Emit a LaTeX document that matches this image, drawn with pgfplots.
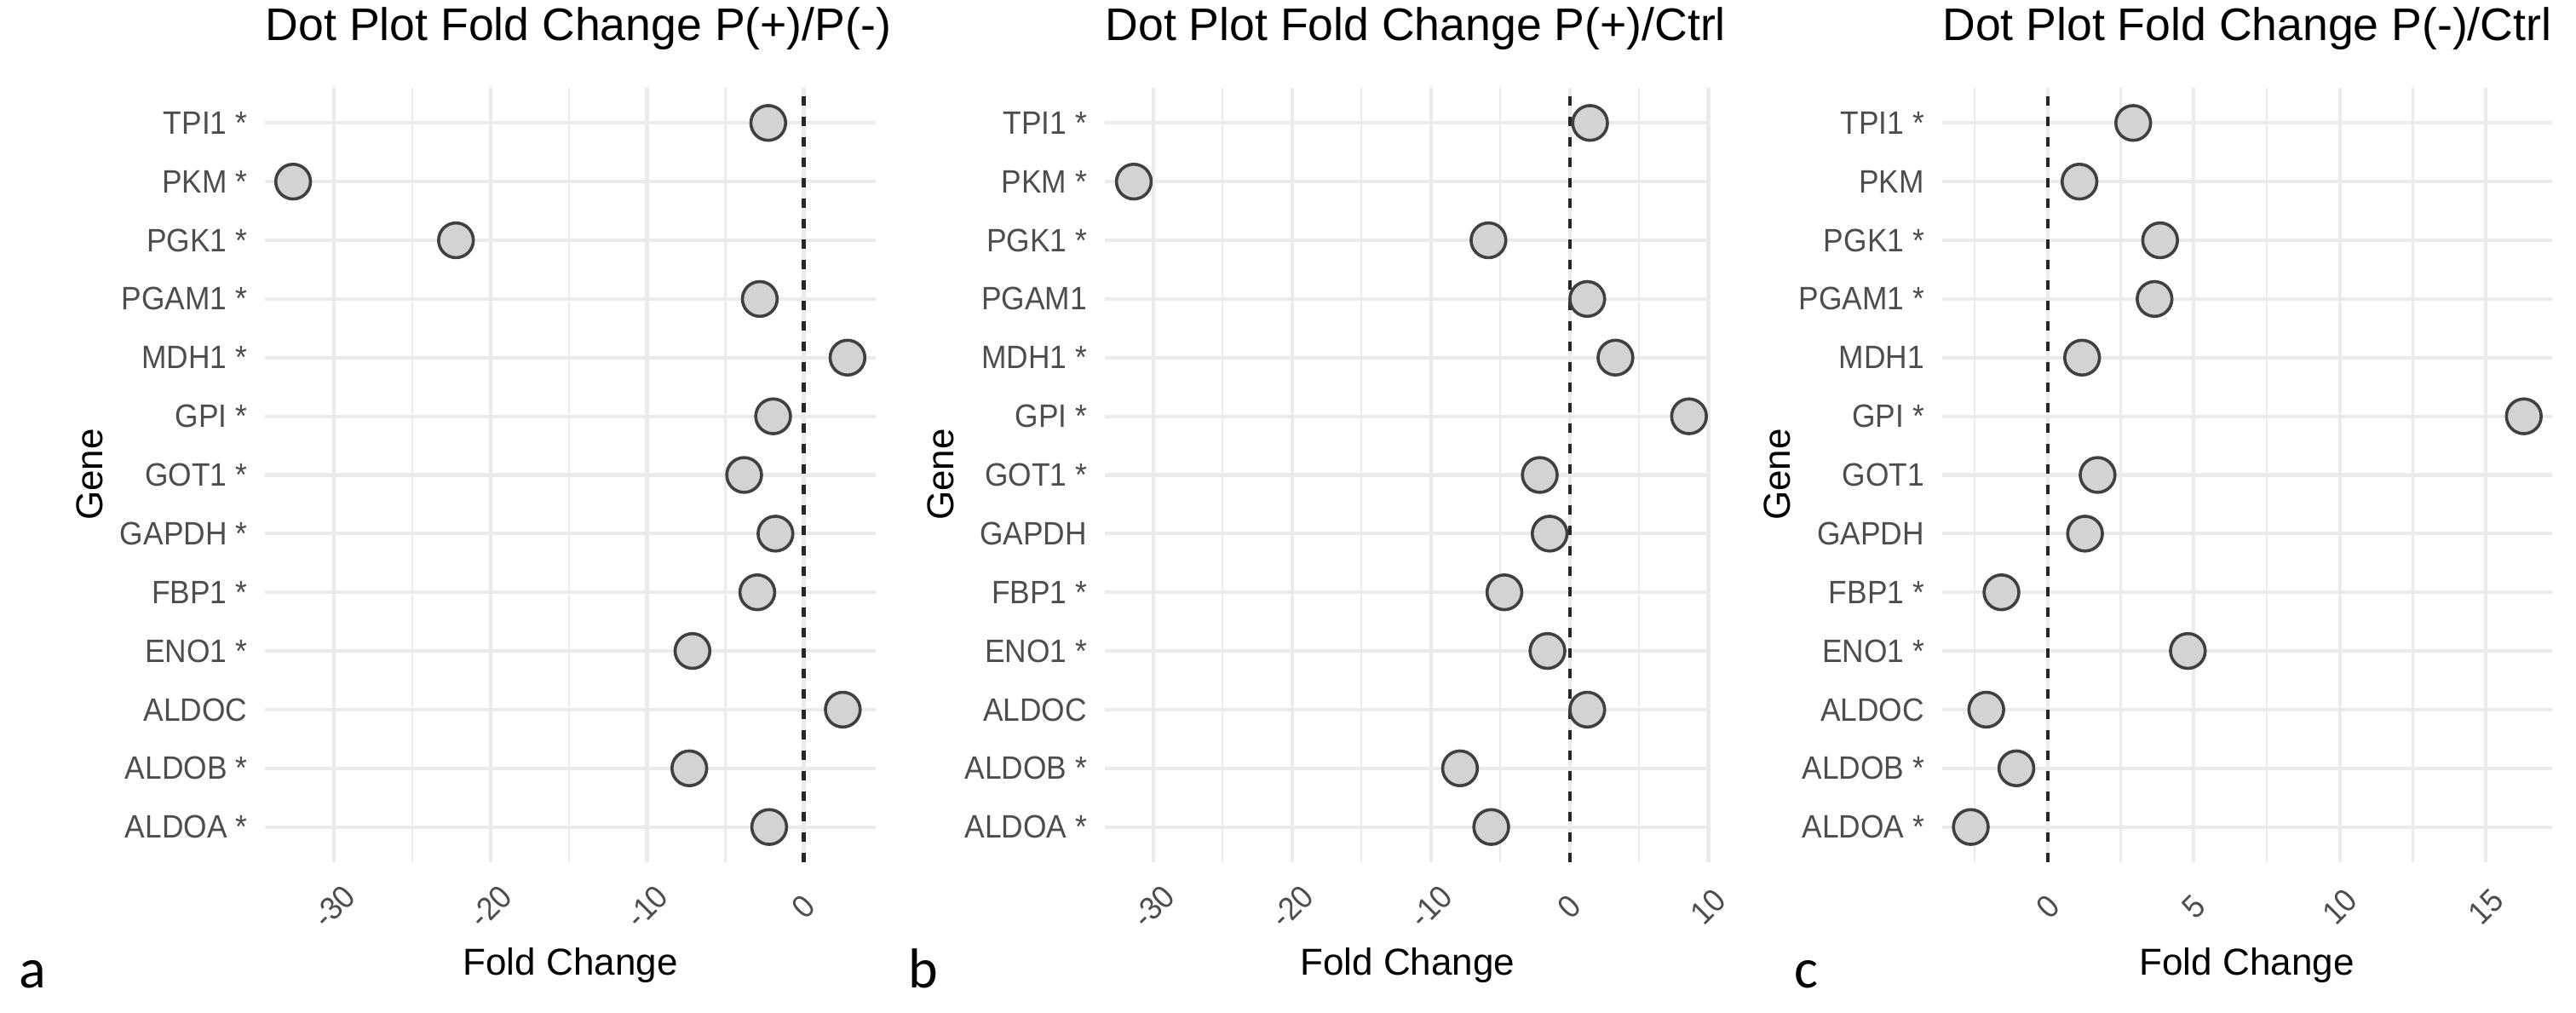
\documentclass[border=0pt]{standalone}
\usepackage{fontspec}
\setmainfont{Liberation Sans}
\newfontfamily\tickfont[FakeStretch=0.93]{Liberation Sans}
\newfontfamily\letterfont{Carlito}
\usepackage{pgfplots}
\pgfplotsset{compat=1.18}

\definecolor{gridgray}{RGB}{235,235,235}
\definecolor{tickgray}{RGB}{77,77,77}
\definecolor{dotfill}{RGB}{211,211,211}
\definecolor{dotline}{RGB}{64,64,64}

\pgfplotsset{
  dotpanel/.style={
    scale only axis,
    anchor=south west,
    width=#1,
    height=227.25pt,
    ymin=0.4, ymax=13.6,
    ytick={1,...,13},
    axis line style={draw=none},
    major tick length=0pt,
    minor tick length=0pt,
    xmajorgrids, ymajorgrids, xminorgrids,
    major grid style={gridgray, line width=1.05pt},
    minor grid style={gridgray, line width=0.55pt},
    clip=false,
    ticklabel style={font=\tickfont\fontsize{9.5}{10}\selectfont, text=tickgray},
    yticklabel style={anchor=east, inner sep=0pt, xshift=-5pt},
    xticklabel style={yshift=-13pt, rotate=45, anchor=center, inner sep=0pt},
    title style={at={(0,1)}, anchor=base west, yshift=7.75pt, inner sep=0pt,
                 font=\fontsize{13.4}{14}\selectfont},
  },
  dots/.style={only marks, mark=*, mark size=5.1pt,
               mark options={fill=dotfill, draw=dotline, line width=0.9pt}},
  zeroline/.style={no marks, black!85, line width=1.05pt,
                   dash pattern=on 2.8pt off 3.2pt},
}

\begin{document}
\begin{tikzpicture}
\useasboundingbox (0,0) rectangle (756pt,297.25pt);

% panel a: P(+)/P(-)
\begin{axis}[dotpanel=179.25pt, at={(77.75pt,44.25pt)},
  xmin=-34.4, xmax=4.6,
  xtick={-30,-20,-10,0}, xticklabels={-30,-20,-10,0},
  minor xtick={-25,-15,-5},
  yticklabels={ALDOA *,ALDOB *,ALDOC,ENO1 *,FBP1 *,GAPDH *,GOT1 *,GPI *,MDH1 *,PGAM1 *,PGK1 *,PKM *,TPI1 *},
  title={Dot Plot Fold Change P(+)/P(-)}]
\addplot[dots] coordinates {
  (-2.2,1) (-7.3,2) (2.5,3) (-7.1,4) (-2.96,5) (-1.8,6) (-3.8,7)
  (-1.95,8) (2.8,9) (-2.8,10) (-22.2,11) (-32.6,12) (-2.26,13)};
\addplot[zeroline] coordinates {(0,0.4) (0,13.6)};
\end{axis}

% panel b: P(+)/Ctrl
\begin{axis}[dotpanel=177.8pt, at={(324.2pt,44.25pt)},
  xmin=-33.5, xmax=10.15,
  xtick={-30,-20,-10,0,10}, xticklabels={-30,-20,-10,0,10},
  minor xtick={-25,-15,-5,5},
  yticklabels={ALDOA *,ALDOB *,ALDOC,ENO1 *,FBP1 *,GAPDH,GOT1 *,GPI *,MDH1 *,PGAM1,PGK1 *,PKM *,TPI1 *},
  title={Dot Plot Fold Change P(+)/Ctrl}]
\addplot[dots] coordinates {
  (-5.65,1) (-7.9,2) (1.27,3) (-1.6,4) (-4.7,5) (-1.44,6) (-2.15,7)
  (8.6,8) (3.3,9) (1.27,10) (-5.85,11) (-31.4,12) (1.47,13)};
\addplot[zeroline] coordinates {(0,0.4) (0,13.6)};
\end{axis}

% panel c: P(-)/Ctrl
\begin{axis}[dotpanel=179.1pt, at={(569.9pt,44.25pt)},
  xmin=-3.62, xmax=17.27,
  xtick={0,5,10,15}, xticklabels={0,5,10,15},
  minor xtick={-2.5,2.5,7.5,12.5},
  yticklabels={ALDOA *,ALDOB *,ALDOC,ENO1 *,FBP1 *,GAPDH,GOT1,GPI *,MDH1,PGAM1 *,PGK1 *,PKM,TPI1 *},
  title={Dot Plot Fold Change P(-)/Ctrl}]
\addplot[dots] coordinates {
  (-2.63,1) (-1.07,2) (-2.1,3) (4.8,4) (-1.58,5) (1.28,6) (1.71,7)
  (16.3,8) (1.18,9) (3.66,10) (3.85,11) (1.09,12) (2.93,13)};
\addplot[zeroline] coordinates {(0,0.4) (0,13.6)};
\end{axis}

% axis titles and panel letters
\foreach \gx in {26.4pt,276.1pt,521.5pt}
  \node[rotate=90, anchor=center, font=\fontsize{11}{12}\selectfont] at (\gx,158pt) {Gene};
\foreach \fx in {167.4pt,413.1pt,659.4pt}
  \node[anchor=base, inner sep=0pt, font=\fontsize{11}{12}\selectfont] at (\fx,11pt) {Fold Change};
\node[anchor=base west, inner sep=0pt, font=\letterfont\fontsize{16.5}{18}\selectfont] at (5.5pt,7.25pt) {a};
\node[anchor=base west, inner sep=0pt, font=\letterfont\fontsize{16.5}{18}\selectfont] at (266.5pt,7.25pt) {b};
\node[anchor=base west, inner sep=0pt, font=\letterfont\fontsize{16.5}{18}\selectfont] at (526.5pt,7.25pt) {c};
\end{tikzpicture}
\end{document}
